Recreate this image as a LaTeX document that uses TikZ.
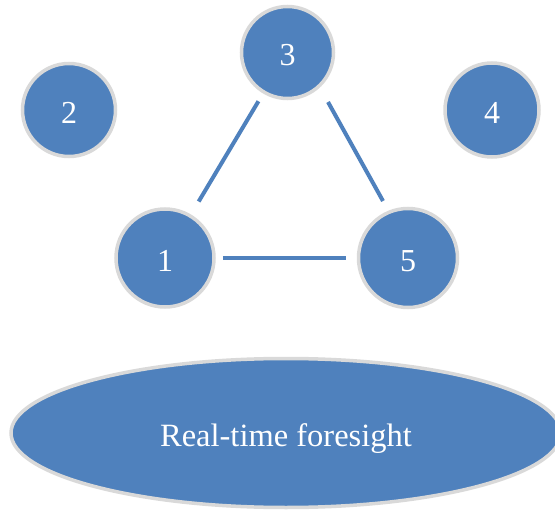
\documentclass[tikz,border=0pt]{standalone}
\usepackage{fontspec}
\setmainfont{Liberation Serif}
\usetikzlibrary{shapes.geometric,calc}
\definecolor{nodeblue}{HTML}{4F81BD}
\definecolor{rimgray}{HTML}{D9D9D9}
\tikzset{
  bubble/.style={circle, fill=nodeblue, draw=rimgray, line width=3.5pt, inner sep=0pt,
    text=white, font=\fontsize{32}{32}\selectfont, text height=27pt, text depth=0pt},
  link/.style={draw=nodeblue, line width=4pt},
  bigoval/.style={ellipse, fill=nodeblue, draw=rimgray, line width=3.5pt, inner sep=0pt,
    minimum width=550pt, minimum height=149pt, text=white, font=\fontsize{32.5}{32.5}\selectfont,
    text height=34pt, text depth=7pt}
}
\begin{document}
\begin{tikzpicture}[x=1pt,y=-1pt]
\useasboundingbox (0,0) rectangle (555,511);
\node[bubble, minimum size=92pt] (n3) at (287.5,52.5) {3};
\node[bubble, minimum size=93pt] (n2) at (69,110) {2};
\node[bubble, minimum size=94pt] (n4) at (492,110) {4};
\node[bubble, minimum size=98pt] (n1) at (165,258) {1};
\node[bubble, minimum size=99pt] (n5) at (408,258) {5};
\node[bigoval] (fs) at (286,433) {Real-time foresight};
\draw[link, shorten <=9pt, shorten >=15pt] (n3) -- (n1);
\draw[link] ($(n3.center)+(40.5,49.5)$) -- ($(n5.center)+(-25,-57)$);
\draw[link, shorten <=7pt, shorten >=11pt] (n1) -- (n5);
\end{tikzpicture}
\end{document}
